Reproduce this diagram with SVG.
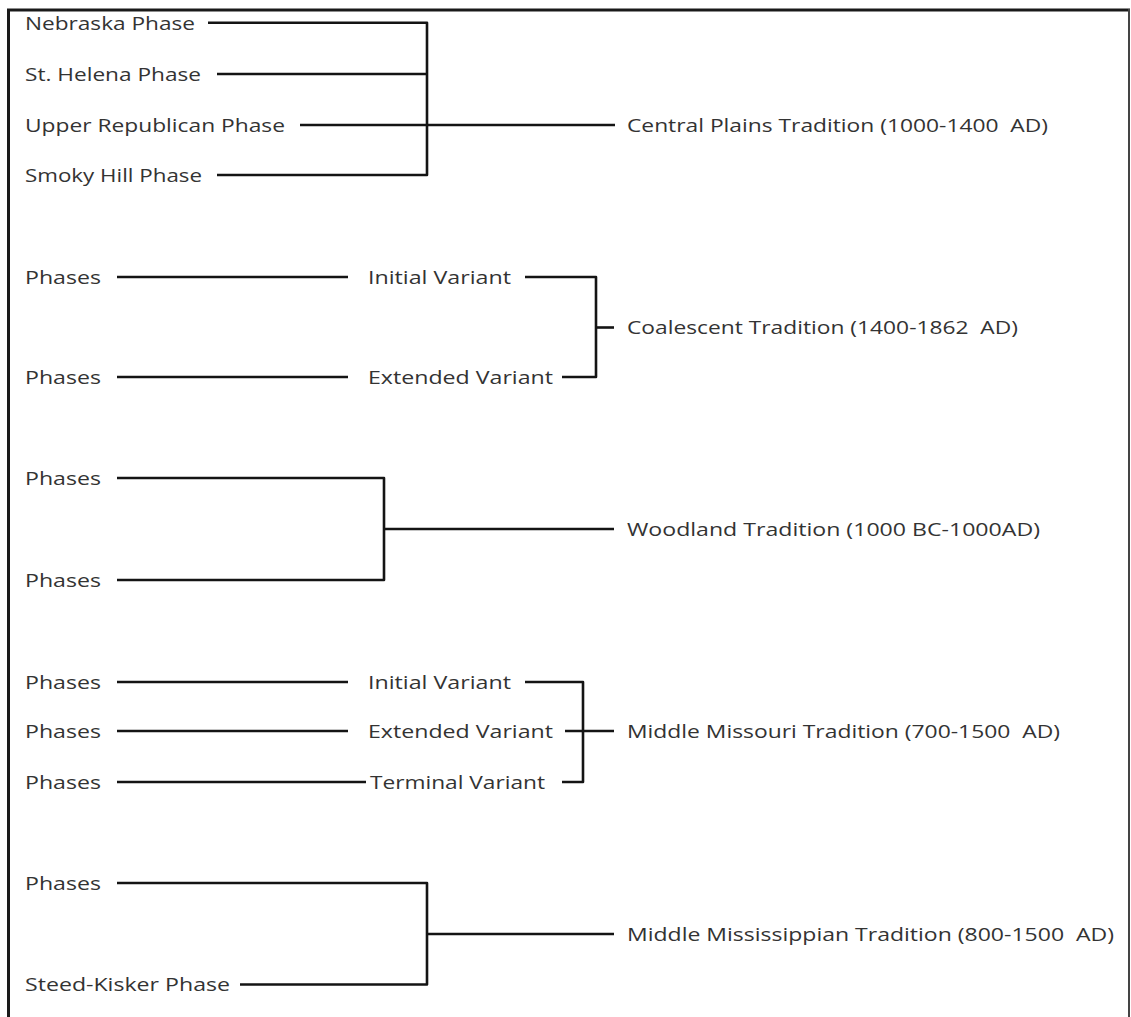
<svg xmlns="http://www.w3.org/2000/svg" width="1131" height="1017" viewBox="0 0 1131 1017">
<style>
  .t { font-family: "Open Sans", "Liberation Sans", sans-serif; font-size: 17.5px; fill: #333333; }
  .c { fill: none; stroke: #141414; stroke-width: 2.6; stroke-linejoin: round; stroke-linecap: butt; }
  .b { fill: none; stroke: #1a1a1a; stroke-width: 3; }
</style>
<rect width="1131" height="1017" fill="#ffffff"/>
<g id="border">
  <line class="b" x1="8.5" y1="10" x2="8.5" y2="1017"/>
  <line class="b" x1="7" y1="10" x2="1130" y2="10"/>
  <line x1="1129" y1="9" x2="1129" y2="1017" stroke="#444" stroke-width="2"/>
</g>
<g id="connectors">
  <!-- Central Plains -->
  <polyline class="c" points="208,22.7 427,22.7 427,175 217,175"/>
  <line class="c" x1="217" y1="74" x2="427" y2="74"/>
  <line class="c" x1="300" y1="125" x2="615" y2="125"/>
  <!-- Coalescent -->
  <line class="c" x1="117" y1="277" x2="348" y2="277"/>
  <line class="c" x1="117" y1="377" x2="348" y2="377"/>
  <polyline class="c" points="525,277 596,277 596,377 562,377"/>
  <line class="c" x1="596" y1="327.5" x2="614" y2="327.5"/>
  <!-- Woodland -->
  <polyline class="c" points="117,478 384,478 384,580 117,580"/>
  <line class="c" x1="384" y1="529" x2="614" y2="529"/>
  <!-- Middle Missouri -->
  <line class="c" x1="117" y1="682" x2="348" y2="682"/>
  <line class="c" x1="117" y1="731" x2="348" y2="731"/>
  <line class="c" x1="117" y1="782" x2="366" y2="782"/>
  <polyline class="c" points="525,682 583,682 583,782 562,782"/>
  <line class="c" x1="565" y1="731" x2="614" y2="731"/>
  <!-- Middle Mississippian -->
  <polyline class="c" points="117,883 427,883 427,984.5 240,984.5"/>
  <line class="c" x1="427" y1="934" x2="614" y2="934"/>
</g>
<g id="central-plains-phases">
  <text class="t" x="25" y="29.5" textLength="170" lengthAdjust="spacingAndGlyphs">Nebraska Phase</text>
  <text class="t" x="25" y="80.5" textLength="176" lengthAdjust="spacingAndGlyphs">St. Helena Phase</text>
  <text class="t" x="25" y="131.5" textLength="260" lengthAdjust="spacingAndGlyphs">Upper Republican Phase</text>
  <text class="t" x="25" y="181.5" textLength="177" lengthAdjust="spacingAndGlyphs">Smoky Hill Phase</text>
</g>
<g id="central-plains">
  <text class="t" x="627" y="131.5" textLength="421" lengthAdjust="spacingAndGlyphs" xml:space="preserve">Central Plains Tradition (1000-1400  AD)</text>
</g>
<g id="coalescent-phases">
  <text class="t" x="25" y="283.5" textLength="76" lengthAdjust="spacingAndGlyphs">Phases</text>
  <text class="t" x="25" y="383.5" textLength="76" lengthAdjust="spacingAndGlyphs">Phases</text>
</g>
<g id="coalescent-variants">
  <text class="t" x="368" y="283.5" textLength="143" lengthAdjust="spacingAndGlyphs">Initial Variant</text>
  <text class="t" x="368" y="383.5" textLength="185" lengthAdjust="spacingAndGlyphs">Extended Variant</text>
</g>
<g id="coalescent">
  <text class="t" x="627" y="334" textLength="391" lengthAdjust="spacingAndGlyphs" xml:space="preserve">Coalescent Tradition (1400-1862  AD)</text>
</g>
<g id="woodland-phases">
  <text class="t" x="25" y="484.5" textLength="76" lengthAdjust="spacingAndGlyphs">Phases</text>
  <text class="t" x="25" y="586.5" textLength="76" lengthAdjust="spacingAndGlyphs">Phases</text>
</g>
<g id="woodland">
  <text class="t" x="627" y="535.5" textLength="413" lengthAdjust="spacingAndGlyphs">Woodland Tradition (1000 BC-1000AD)</text>
</g>
<g id="middle-missouri-phases">
  <text class="t" x="25" y="688.5" textLength="76" lengthAdjust="spacingAndGlyphs">Phases</text>
  <text class="t" x="25" y="737.5" textLength="76" lengthAdjust="spacingAndGlyphs">Phases</text>
  <text class="t" x="25" y="788.5" textLength="76" lengthAdjust="spacingAndGlyphs">Phases</text>
</g>
<g id="middle-missouri-variants">
  <text class="t" x="368" y="688.5" textLength="143" lengthAdjust="spacingAndGlyphs">Initial Variant</text>
  <text class="t" x="368" y="737.5" textLength="185" lengthAdjust="spacingAndGlyphs">Extended Variant</text>
  <text class="t" x="370" y="788.5" textLength="175" lengthAdjust="spacingAndGlyphs">Terminal Variant</text>
</g>
<g id="middle-missouri">
  <text class="t" x="627" y="737.5" textLength="433" lengthAdjust="spacingAndGlyphs" xml:space="preserve">Middle Missouri Tradition (700-1500  AD)</text>
</g>
<g id="middle-mississippian-phases">
  <text class="t" x="25" y="889.5" textLength="76" lengthAdjust="spacingAndGlyphs">Phases</text>
  <text class="t" x="25" y="991" textLength="205" lengthAdjust="spacingAndGlyphs">Steed-Kisker Phase</text>
</g>
<g id="middle-mississippian">
  <text class="t" x="627" y="940.5" textLength="487" lengthAdjust="spacingAndGlyphs" xml:space="preserve">Middle Mississippian Tradition (800-1500  AD)</text>
</g>
</svg>
